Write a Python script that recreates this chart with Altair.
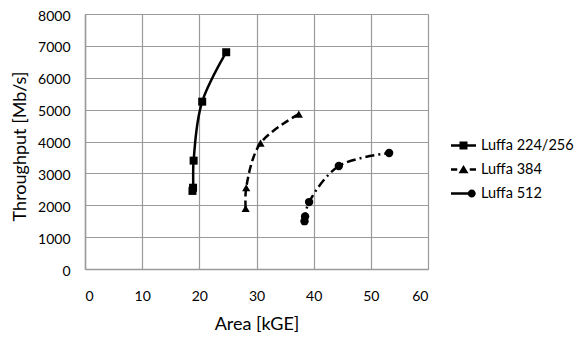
import altair as alt
import pandas as pd

series_names = ["Luffa 224/256", "Luffa 384", "Luffa 512"]

area_224 = [18.8, 18.9, 19.0, 20.5, 24.7]
thr_224 = [2450, 2550, 3400, 5250, 6800]

area_384 = [28.1, 28.2, 30.7, 37.4]
thr_384 = [1900, 2550, 3950, 4860]

area_512 = [38.4, 38.5, 39.2, 44.4, 53.2]
thr_512 = [1500, 1650, 2100, 3230, 3640]

x_ticks = [0, 10, 20, 30, 40, 50, 60]
y_ticks = [0, 1000, 2000, 3000, 4000, 5000, 6000, 7000, 8000]

rows = []
for name, xs, ys in zip(series_names, [area_224, area_384, area_512], [thr_224, thr_384, thr_512]):
    for i, (a, t) in enumerate(zip(xs, ys)):
        rows.append({"series": name, "area": a, "thr": t, "idx": i})
df = pd.DataFrame(rows)

FONT = "Lato"
GRID = "#9a9a9a"

x_enc = alt.X("area:Q", scale=alt.Scale(domain=[0, 60], nice=False),
              axis=alt.Axis(values=x_ticks, title="Area [kGE]", grid=True, gridColor=GRID,
                            gridWidth=1.2, domainColor=GRID, domainWidth=1.5, ticks=False,
                            labelPadding=20, labelFontSize=14, titleFontSize=18,
                            titlePadding=12, labelColor="#000", titleColor="#000",
                            labelOverlap=False, format="d",
                            labelFont=FONT, titleFont=FONT, titleFontWeight="normal"))
y_enc = alt.Y("thr:Q", scale=alt.Scale(domain=[0, 8000], nice=False),
              axis=alt.Axis(values=y_ticks, title="Throughput [Mb/s]", grid=True, gridColor=GRID,
                            gridWidth=1.2, domainColor=GRID, domainWidth=1.5, ticks=False,
                            labelPadding=15, labelFontSize=14, titleFontSize=18, labelOffset=2,
                            titleX=-56, titleY=132, labelColor="#000", titleColor="#000",
                            labelOverlap=False, labelBound=False, format="d",
                            labelFont=FONT, titleFont=FONT, titleFontWeight="normal"))

# legend glyphs: line drawn as a thin filled bar plus the marker
bar = "M-1,-0.1L1,-0.1L1,0.1L-1,0.1Z"
sq = bar + "M-0.32,-0.32L0.32,-0.32L0.32,0.32L-0.32,0.32Z"
tri = ("M-1,-0.1L-0.5,-0.1L-0.5,0.1L-1,0.1Z"
       "M0.5,-0.1L1,-0.1L1,0.1L0.5,0.1Z"
       "M-0.4,0.3L0,-0.36L0.4,0.3Z")
cir = ("M-1,-0.1L0.4,-0.1L0.4,0.1L-1,0.1Z"
       "M0.34,0A0.32,0.32,0,1,1,0.98,0A0.32,0.32,0,1,1,0.34,0Z")

base = alt.Chart(df).encode(x=x_enc, y=y_enc)

lines = base.mark_line(interpolate="catmull-rom", strokeWidth=2.5, color="black").encode(
    detail="series:N",
    order="idx:Q",
    strokeDash=alt.StrokeDash("series:N",
                              scale=alt.Scale(domain=series_names, range=[[1, 0], [8, 4], [9, 4, 2, 4]]),
                              legend=None),
)

points = base.mark_point(filled=True, opacity=1, color="black").encode(
    shape=alt.Shape("series:N",
                    scale=alt.Scale(domain=series_names, range=["square", "triangle-up", "circle"]),
                    legend=None),
    size=alt.Size("series:N", scale=alt.Scale(domain=series_names, range=[64, 70, 55]), legend=None),
)

legend_layer = base.transform_filter("false").mark_point(
    filled=True, opacity=1, color="black"
).encode(
    shape=alt.Shape("series:N",
                    scale=alt.Scale(domain=series_names, range=[sq, tri, cir]),
                    legend=alt.Legend(title=None, orient="none", legendX=365, legendY=118,
                                      padding=0, symbolSize=625, labelOffset=4, rowPadding=3,
                                      labelFontSize=14.5, labelFont=FONT, labelColor="#000",
                                      symbolFillColor="black", symbolOpacity=1)),
)

chart = alt.layer(lines, points, legend_layer).resolve_scale(shape="independent").properties(
    width=343, height=255,
    autosize=alt.AutoSizeParams(type="none"),
    padding={"left": 77, "top": 6, "right": 150, "bottom": 64},
).configure_view(stroke=None).configure_axis(labelOverlap=False).configure(background="white")

chart.save("out.html", embed_options={"renderer": "svg", "actions": False})
